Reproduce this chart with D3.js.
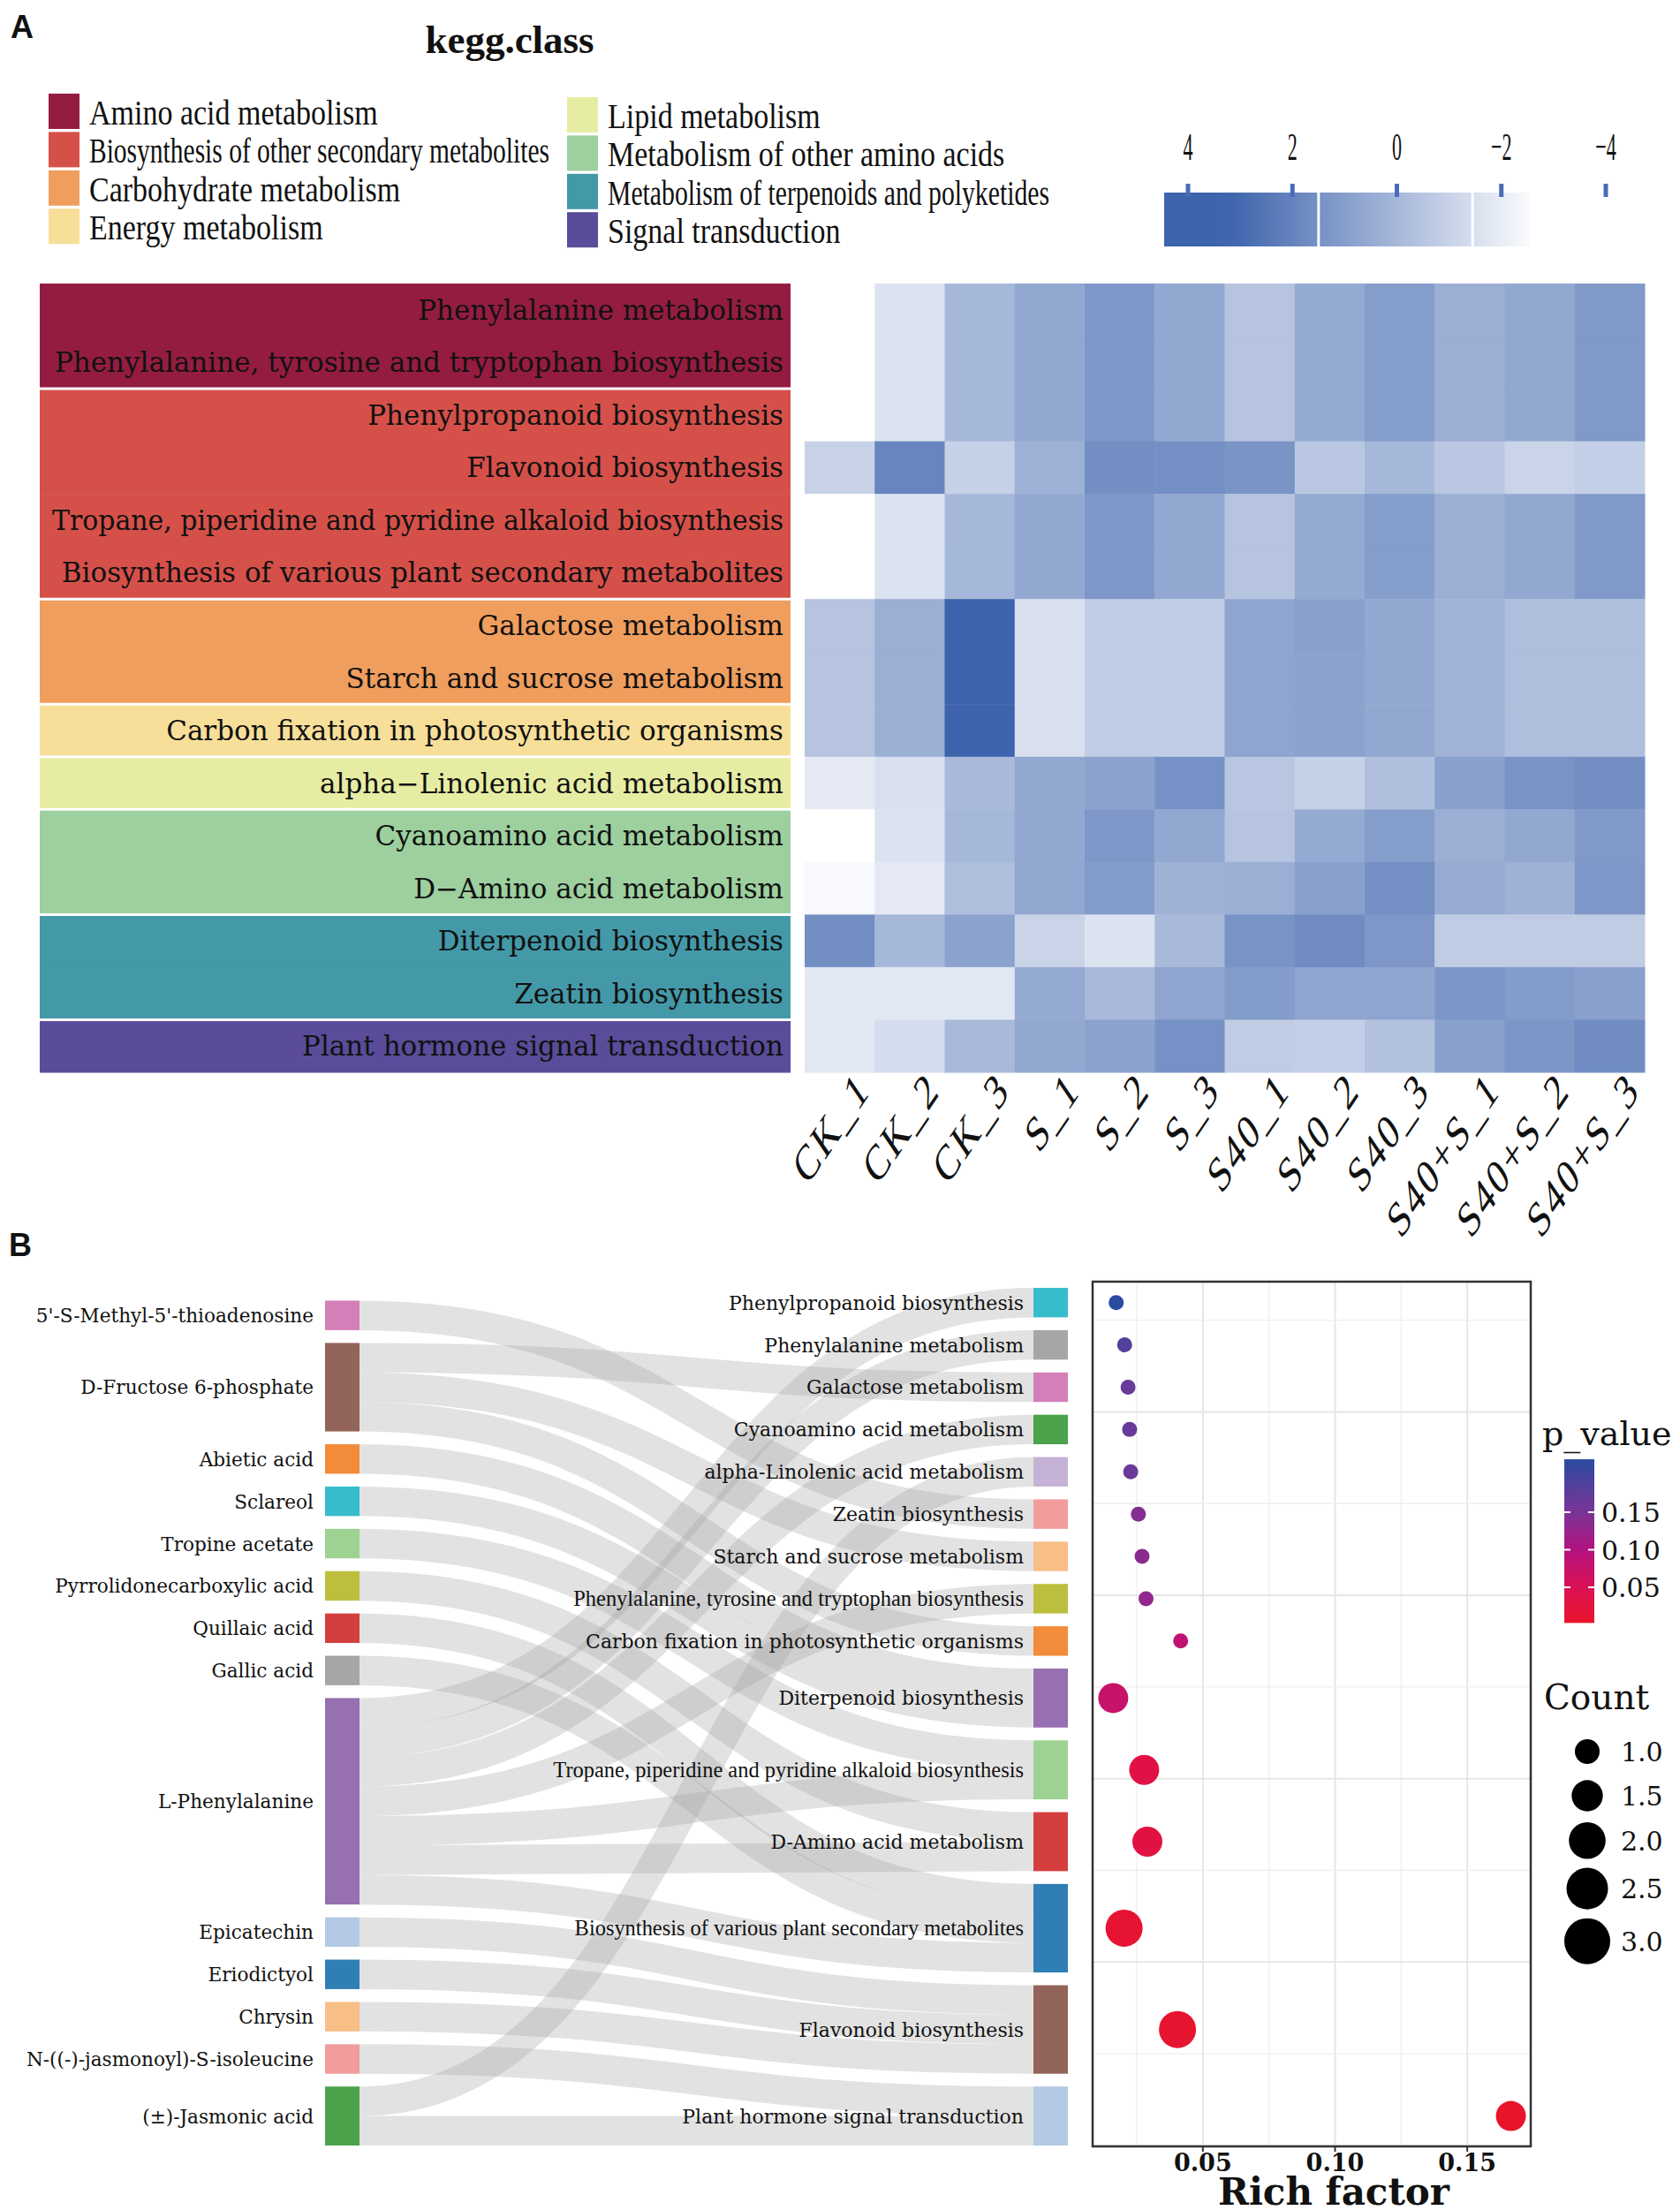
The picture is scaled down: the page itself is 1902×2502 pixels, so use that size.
<!DOCTYPE html>
<html><head><meta charset="utf-8">
<script src="https://cdn.jsdelivr.net/npm/d3@7"></script>
<style>
body{margin:0;background:#fff}
svg{display:block}
text{font-family:"Liberation Serif","Times New Roman",serif;fill:#111}
.dv{font-family:"DejaVu Serif",serif}
</style>
</head><body>
<svg id="c" width="1902" height="2502"></svg>
<script>
// ================= DATA =================
// Panel A
const keggClasses = ["Amino acid metabolism","Biosynthesis of other secondary metabolites","Carbohydrate metabolism","Energy metabolism","Lipid metabolism","Metabolism of other amino acids","Metabolism of terpenoids and polyketides","Signal transduction"];
const keggClassColors = ["#951c41","#d6504a","#f09e5e","#f7df9a","#e6eda3","#9dd09e","#4399a8","#5a4c9a"];
const pathways = ["Phenylalanine metabolism","Phenylalanine, tyrosine and tryptophan biosynthesis","Phenylpropanoid biosynthesis","Flavonoid biosynthesis","Tropane, piperidine and pyridine alkaloid biosynthesis","Biosynthesis of various plant secondary metabolites","Galactose metabolism","Starch and sucrose metabolism","Carbon fixation in photosynthetic organisms","alpha\u2212Linolenic acid metabolism","Cyanoamino acid metabolism","D\u2212Amino acid metabolism","Diterpenoid biosynthesis","Zeatin biosynthesis","Plant hormone signal transduction"];
const pathwayClass = [0,0,1,1,1,1,2,2,3,4,5,5,6,6,7];
const samples = ["CK_1","CK_2","CK_3","S_1","S_2","S_3","S40_1","S40_2","S40_3","S40+S_1","S40+S_2","S40+S_3"];
const heatValues = [
  [-2.70,-1.64, 0.01, 0.60, 1.25, 0.60,-0.46, 0.55, 1.02, 0.37, 0.60, 1.19],
  [-2.70,-1.64, 0.01, 0.60, 1.25, 0.60,-0.46, 0.55, 1.02, 0.37, 0.60, 1.19],
  [-2.70,-1.64, 0.01, 0.60, 1.25, 0.60,-0.46, 0.55, 1.02, 0.37, 0.60, 1.19],
  [-0.99, 1.96,-0.93, 0.31, 1.61, 1.55, 1.37,-0.58, 0.01,-0.58,-1.05,-0.87],
  [-2.70,-1.64, 0.01, 0.60, 1.25, 0.60,-0.46, 0.55, 1.02, 0.37, 0.60, 1.19],
  [-2.70,-1.60, 0.01, 0.60, 1.25, 0.60,-0.46, 0.55, 1.02, 0.37, 0.60, 1.19],
  [-0.46, 0.37, 3.20,-1.52,-0.81,-0.81, 0.72, 0.90, 0.60, 0.19,-0.22,-0.22],
  [-0.46, 0.37, 3.20,-1.52,-0.81,-0.81, 0.72, 0.84, 0.60, 0.19,-0.22,-0.22],
  [-0.46, 0.37, 3.20,-1.52,-0.81,-0.81, 0.72, 0.84, 0.60, 0.19,-0.22,-0.22],
  [-1.87,-1.52,-0.05, 0.60, 0.84, 1.49,-0.52,-0.93,-0.28, 0.90, 1.43, 1.61],
  [-2.70,-1.64, 0.01, 0.60, 1.25, 0.60,-0.46, 0.55, 1.02, 0.37, 0.60, 1.19],
  [-2.46,-1.87,-0.22, 0.66, 1.08, 0.25, 0.37, 0.90, 1.55, 0.49, 0.25, 1.25],
  [ 1.61, 0.01, 0.84,-1.05,-1.64,-0.05, 1.43, 1.67, 1.25,-0.75,-0.75,-0.75],
  [-1.82,-1.82,-1.82, 0.55,-0.05, 0.72, 1.08, 0.72, 0.72, 1.31, 1.08, 0.90],
  [-1.82,-1.40,-0.05, 0.60, 0.84, 1.49,-0.75,-0.87,-0.34, 0.90, 1.31, 1.67]
];
const heatLegendTicks = [4,2,0,-2,-4];

// Panel B
const metabolites = ["5'-S-Methyl-5'-thioadenosine","D-Fructose 6-phosphate","Abietic acid","Sclareol","Tropine acetate","Pyrrolidonecarboxylic acid","Quillaic acid","Gallic acid","L-Phenylalanine","Epicatechin","Eriodictyol","Chrysin","N-((-)-jasmonoyl)-S-isoleucine","(\u00b1)-Jasmonic acid"];
const metaboliteColors = ["#d47fb8","#936459","#f28c3a","#37bccb","#9ed293","#bcbf3d","#d43f3e","#a6a6a6","#9670b0","#b3c9e5","#2f7eb4","#f7be86","#f29c9c","#4aa24a"];
const pathwaysB = ["Phenylpropanoid biosynthesis","Phenylalanine metabolism","Galactose metabolism","Cyanoamino acid metabolism","alpha-Linolenic acid metabolism","Zeatin biosynthesis","Starch and sucrose metabolism","Phenylalanine, tyrosine and tryptophan biosynthesis","Carbon fixation in photosynthetic organisms","Diterpenoid biosynthesis","Tropane, piperidine and pyridine alkaloid biosynthesis","D-Amino acid metabolism","Biosynthesis of various plant secondary metabolites","Flavonoid biosynthesis","Plant hormone signal transduction"];
const pathwayBColors = ["#36bccb","#a6a6a6","#d47fb8","#4aa24a","#c6b2d6","#f29c9c","#f7be86","#bcbf3d","#f28c3a","#9670b0","#9ed293","#d43f3e","#2f7eb4","#936459","#b3c9e5"];
const linkSource = [0,1,1,1,2,3,4,5,6,7,8,8,8,8,8,8,8,9,10,11,12,13,13];
const linkTarget = [5,2,6,8,9,9,10,11,12,12,0,1,3,7,10,11,12,13,13,13,14,4,14];
const linkValue  = [1,1,1,1,1,1,1,1,1,1,1,1,1,1,1,1,1,1,1,1,1,1,1];
const richFactor = [0.0172,0.0204,0.0217,0.0223,0.0227,0.0256,0.0270,0.0285,0.0416,0.0161,0.0278,0.0290,0.0202,0.0404,0.1665];
const pValue     = [0.2205,0.186,0.168,0.165,0.163,0.140,0.136,0.131,0.085,0.075,0.032,0.030,0.012,0.008,0.0025];
const geneCount  = [1,1,1,1,1,1,1,1,1,2,2,2,3,3,2];
const richTicks = [0.05,0.10,0.15];
const pTicks = [0.15,0.10,0.05];
const countTicks = [1.0,1.5,2.0,2.5,3.0];

// ================= DRAW =================
const svg = d3.select("#c");
svg.append("rect").attr("width",1902).attr("height",2502).attr("fill","#fff");

function scaledText(g, x, y, str, size, sx, anchor, maxW){
  const t = g.append("text")
    .attr("transform", `translate(${x},${y}) scale(${sx},1)`)
    .attr("font-size", size).attr("text-anchor", anchor || "start").text(str);
  if (maxW){
    const w = t.node().getComputedTextLength() * sx;
    if (w > maxW) t.attr("textLength", maxW / sx).attr("lengthAdjust","spacingAndGlyphs");
  }
  return t;
}

// panel letters
svg.append("text").attr("x",12).attr("y",43).style("font-family","'Liberation Sans',Arial,sans-serif")
  .attr("font-weight","bold").attr("font-size",36).text("A");
svg.append("text").attr("x",10).attr("y",1422).style("font-family","'Liberation Sans',Arial,sans-serif")
  .attr("font-weight","bold").attr("font-size",36).text("B");

// ---------- Panel A ----------
const gA = svg.append("g");
gA.append("text").attr("x",577).attr("y",60).attr("text-anchor","middle")
  .attr("font-weight","bold").attr("font-size",45).text("kegg.class");

// class legend
const legRow = d3.scaleLinear().domain([0,1]).range([0,43.4]);
keggClasses.forEach((c,i)=>{
  const col = Math.floor(i/4), row = i%4;
  const sx = col ? 642 : 55;
  const sy = (col ? 110 : 106) + legRow(row);
  gA.append("rect").attr("x",sx).attr("y",sy).attr("width",35).attr("height",40).attr("fill",keggClassColors[i]);
  scaledText(gA, sx+46, sy+35, c, 40, 0.85, "start", col ? 500 : 521);
});

// heat color legend
const heatColor = d3.scaleLinear().domain([-2.7,3.2]).range(["#ffffff","#3e64ad"]).clamp(true);
const legX = d3.scaleLinear().domain([4,-4]).range([1345,1818]);
const defs = svg.append("defs");
const hg = defs.append("linearGradient").attr("id","heatgrad").attr("x1","0%").attr("x2","100%");
const barX0 = 1318, barX1 = 1732;
d3.range(0,1.0001,0.05).forEach(f=>{
  const px = barX0 + f*(barX1-barX0);
  hg.append("stop").attr("offset",(f*100)+"%").attr("stop-color",heatColor(legX.invert(px)));
});
gA.append("rect").attr("x",barX0).attr("y",218).attr("width",barX1-barX0).attr("height",61).attr("fill","url(#heatgrad)");
[1.5,-1.45].forEach(v=>{
  gA.append("line").attr("x1",legX(v)).attr("x2",legX(v)).attr("y1",218).attr("y2",279).attr("stroke","#fff").attr("stroke-width",3);
});
heatLegendTicks.forEach(v=>{
  gA.append("rect").attr("x",legX(v)-2.5).attr("y",208).attr("width",5).attr("height",15).attr("fill","#4a6cb8");
  scaledText(gA, legX(v), 181, v<0 ? "\u2212"+Math.abs(v) : String(v), 44, 0.5, "middle");
});

// heatmap
const xH = d3.scaleBand().domain(samples).range([911,1862]);
const yH = d3.scaleBand().domain(pathways).range([321,1214]);
pathways.forEach((p,i)=>{
  gA.append("rect").attr("x",45).attr("y",yH(p)).attr("width",850).attr("height",yH.bandwidth()+0.5)
    .attr("fill",keggClassColors[pathwayClass[i]]);
});
pathways.forEach((p,i)=>{
  if (i>0 && pathwayClass[i]!==pathwayClass[i-1]){
    gA.append("line").attr("x1",45).attr("x2",895).attr("y1",yH(p)).attr("y2",yH(p))
      .attr("stroke","#fff").attr("stroke-width",3);
  }
});
pathways.forEach((p,i)=>{
  const t = gA.append("text").attr("class","dv").attr("x",887).attr("y",yH(p)+yH.bandwidth()/2+11).attr("text-anchor","end")
    .attr("font-size",31).text(p);
  if (t.node().getComputedTextLength() > 830) t.attr("textLength",828).attr("lengthAdjust","spacingAndGlyphs");
});
heatValues.forEach((row,i)=>{
  row.forEach((v,j)=>{
    gA.append("rect").attr("x",xH(samples[j])).attr("y",yH(pathways[i]))
      .attr("width",xH.bandwidth()+0.5).attr("height",yH.bandwidth()+0.5).attr("fill",heatColor(v));
  });
});
samples.forEach(s=>{
  const x = xH(s)+xH.bandwidth()/2+36, y = 1236;
  gA.append("text").attr("transform",`translate(${x},${y}) scale(0.68,1) rotate(-45)`).attr("text-anchor","end")
    .attr("font-size",57).attr("letter-spacing","4px").text(s);
});

// ---------- Panel B : Sankey ----------
const gB = svg.append("g");
const sk = {left:368, right:1209, nodeW:39, top:1458, bottom:2429, pad:14.5};
const nodesL = metabolites.map((n,i)=>({name:n, color:metaboliteColors[i], out:[], inn:[]}));
const nodesR = pathwaysB.map((n,i)=>({name:n, color:pathwayBColors[i], out:[], inn:[]}));
const links = linkSource.map((s,i)=>({source:nodesL[s], target:nodesR[linkTarget[i]], value:linkValue[i]}));
links.forEach(l=>{ l.source.out.push(l); l.target.inn.push(l); });
[nodesL,nodesR].forEach(col=>col.forEach(n=>{ n.value = Math.max(d3.sum(n.out,d=>d.value), d3.sum(n.inn,d=>d.value)); }));
const maxN = Math.max(nodesL.length,nodesR.length);
const totL = d3.sum(nodesL,d=>d.value), totR = d3.sum(nodesR,d=>d.value);
const k = (sk.bottom - sk.top - (maxN-1)*sk.pad) / Math.max(totL,totR);
const vScale = d3.scaleLinear().domain([0,1]).range([0,k]);
[nodesL,nodesR].forEach((col,ci)=>{
  const h = d3.sum(col,d=>vScale(d.value)) + (col.length-1)*sk.pad;
  let y = sk.bottom - h;
  col.forEach(n=>{
    n.x0 = ci ? sk.right - sk.nodeW : sk.left; n.x1 = n.x0 + sk.nodeW;
    n.y0 = y; n.y1 = y + vScale(n.value); y = n.y1 + sk.pad;
  });
});
nodesL.forEach(n=>{
  let y = n.y0;
  n.out.sort((a,b)=>a.target.y0-b.target.y0).forEach(l=>{ l.width = vScale(l.value); l.y0 = y + l.width/2; y += l.width; });
});
nodesR.forEach(n=>{
  let y = n.y0;
  n.inn.sort((a,b)=>a.source.y0-b.source.y0).forEach(l=>{ l.y1 = y + l.width/2; y += l.width; });
});
gB.append("g").selectAll("path").data(links).join("path")
  .attr("d",l=>{ const x0=l.source.x1, x1=l.target.x0, m=(x0+x1)/2;
    return `M${x0},${l.y0}C${m},${l.y0} ${m},${l.y1} ${x1},${l.y1}`; })
  .attr("fill","none").attr("stroke","#9e9e9e").attr("stroke-opacity",0.3).attr("stroke-width",l=>l.width);
[...nodesL,...nodesR].forEach(n=>{
  gB.append("rect").attr("x",n.x0).attr("y",n.y0).attr("width",n.x1-n.x0).attr("height",n.y1-n.y0).attr("fill",n.color);
});
nodesL.forEach(n=>{
  gB.append("text").attr("class","dv").attr("x",n.x0-13).attr("y",(n.y0+n.y1)/2+8).attr("text-anchor","end").attr("font-size",21.6).text(n.name);
});
nodesR.forEach(n=>{
  const t = gB.append("text").attr("class","dv").attr("x",n.x0-11).attr("y",(n.y0+n.y1)/2+8).attr("text-anchor","end")
    .attr("font-size",22).text(n.name);
  const w = t.node().getComputedTextLength();
  if (w > 520){
    t.attr("class",null).attr("font-size",26);
    const wn = t.node().getComputedTextLength();
    t.attr("textLength",wn*0.94).attr("lengthAdjust","spacingAndGlyphs");
  }
});

// ---------- Panel B : dot plot ----------
const fr = {x0:1237, x1:1733, y0:1451, y1:2430};
const xR = d3.scaleLinear().domain([0.0083,0.174]).range([fr.x0,fr.x1]);
const gD = svg.append("g");
d3.range(0.025,0.174,0.025).forEach((v,i)=>{
  gD.append("line").attr("x1",xR(v)).attr("x2",xR(v)).attr("y1",fr.y0).attr("y2",fr.y1)
    .attr("stroke", i%2 ? "#e6e6e6" : "#f0f0f0").attr("stroke-width", i%2 ? 2 : 1.4);
});
const yGrid = d3.scaleLinear().domain([0,9.43]).range([fr.y0,fr.y1]);
d3.range(0.42,9.43,1).forEach((v,i)=>{
  gD.append("line").attr("x1",fr.x0).attr("x2",fr.x1).attr("y1",yGrid(v)).attr("y2",yGrid(v))
    .attr("stroke", i%2 ? "#e6e6e6" : "#efefef").attr("stroke-width", i%2 ? 2 : 1.4);
});
const pColor = d3.scaleLinear().domain([0.0025,0.05,0.10,0.15,0.2205])
  .range(["#e9142a","#db1155","#b3127f","#7a3597","#2b4ba0"]);
const rDot = d3.scaleLinear().domain([1,2,3]).range([8.5,17,21]);
nodesR.forEach((n,i)=>{
  gD.append("circle").attr("cx",xR(richFactor[i])).attr("cy",(n.y0+n.y1)/2)
    .attr("r",rDot(geneCount[i])).attr("fill",pColor(pValue[i]));
});
gD.append("rect").attr("x",fr.x0).attr("y",fr.y0).attr("width",fr.x1-fr.x0).attr("height",fr.y1-fr.y0)
  .attr("fill","none").attr("stroke","#333").attr("stroke-width",2.5);
richTicks.forEach(v=>{
  gD.append("line").attr("x1",xR(v)).attr("x2",xR(v)).attr("y1",fr.y1).attr("y2",fr.y1+6).attr("stroke","#333").attr("stroke-width",2);
  gD.append("text").attr("class","dv").attr("x",xR(v)).attr("y",2458).attr("text-anchor","middle").attr("font-weight","bold")
    .attr("font-size",27).text(v.toFixed(2));
});
gD.append("text").attr("class","dv").attr("x",1510).attr("y",2496).attr("text-anchor","middle").attr("font-weight","bold")
  .attr("font-size",42).text("Rich factor");

// p_value legend
const pLeg = d3.scaleLinear().domain([0.05,0.15]).range([1797,1712]);
const pExt = d3.extent(pValue);
const pg = defs.append("linearGradient").attr("id","pgrad").attr("x1","0").attr("x2","0").attr("y1","0").attr("y2","1");
d3.range(0,1.0001,0.05).forEach(f=>{
  const v = pExt[1] - f*(pExt[1]-pExt[0]);
  pg.append("stop").attr("offset",(f*100)+"%").attr("stop-color",pColor(v));
});
gD.append("text").attr("class","dv").attr("x",1746).attr("y",1636).attr("font-size",38).text("p_value");
gD.append("rect").attr("x",1771).attr("y",pLeg(pExt[1])).attr("width",34).attr("height",pLeg(pExt[0])-pLeg(pExt[1])).attr("fill","url(#pgrad)");
pTicks.forEach(v=>{
  gD.append("line").attr("x1",1771).attr("x2",1778).attr("y1",pLeg(v)).attr("y2",pLeg(v)).attr("stroke","#fff").attr("stroke-width",2);
  gD.append("line").attr("x1",1798).attr("x2",1805).attr("y1",pLeg(v)).attr("y2",pLeg(v)).attr("stroke","#fff").attr("stroke-width",2);
  gD.append("text").attr("class","dv").attr("x",1813).attr("y",pLeg(v)+11).attr("font-size",30).text(v.toFixed(2));
});

// Count legend
gD.append("text").attr("class","dv").attr("x",1748).attr("y",1935).attr("font-size",39).text("Count");
const rLeg = d3.scaleSqrt().domain([1,3]).range([14,26]);
let cy = 1983, prevH = null;
countTicks.forEach(c=>{
  const h = Math.max(2*rLeg(c)+10, 50);
  if (prevH !== null) cy += (prevH + h)/2;
  gD.append("circle").attr("cx",1797).attr("cy",cy).attr("r",rLeg(c)).attr("fill","#000");
  gD.append("text").attr("class","dv").attr("x",1835).attr("y",cy+11).attr("font-size",30).text(c.toFixed(1));
  prevH = h;
});
</script>
</body></html>
